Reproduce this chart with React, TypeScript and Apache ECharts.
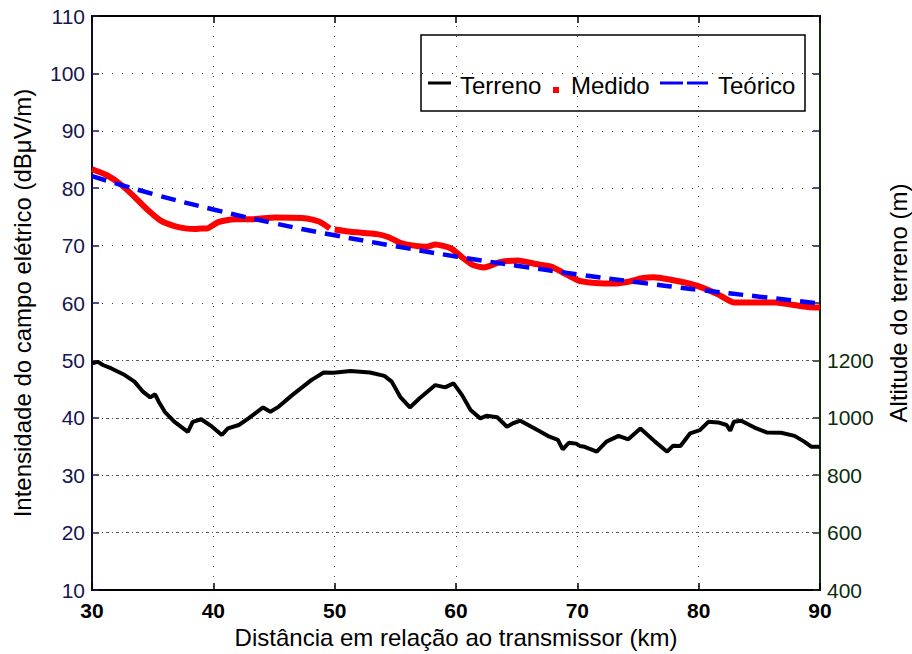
import React, { useEffect, useRef } from "react";
import * as echarts from "echarts";

const FONT = "'Liberation Sans', Arial, Helvetica, sans-serif";

// Terrain profile (km, metres) - right axis
const terrainKm = [30.0, 30.5, 30.9, 31.6, 32.7, 33.5, 34.2, 34.8, 35.2, 35.5, 36.0, 36.8, 37.9, 38.3, 39.0, 39.9, 40.7, 41.2, 42.1, 42.9, 44.1, 44.7, 45.4, 46.5, 48.1, 49.1, 49.9, 51.3, 52.9, 54.1, 54.7, 55.4, 56.2, 57.0, 58.3, 59.1, 59.8, 60.5, 61.2, 62.0, 62.5, 63.4, 64.2, 64.7, 65.3, 66.6, 67.7, 68.4, 68.8, 69.3, 69.9, 70.2, 70.6, 71.6, 72.4, 73.4, 74.2, 75.2, 76.4, 77.4, 77.9, 78.5, 79.3, 80.1, 80.8, 81.6, 82.3, 82.6, 82.9, 83.5, 84.6, 85.6, 86.8, 87.9, 88.7, 89.3, 90.0];
const terrainM = [1190, 1195, 1184, 1172, 1149, 1126, 1091, 1071, 1082, 1056, 1021, 986, 951, 986, 995, 969, 940, 963, 975, 998, 1036, 1021, 1039, 1079, 1132, 1158, 1157, 1163, 1158, 1146, 1126, 1073, 1036, 1068, 1114, 1106, 1120, 1079, 1027, 998, 1007, 1002, 969, 981, 990, 960, 934, 923, 890, 913, 910, 902, 899, 882, 917, 937, 925, 963, 917, 882, 903, 902, 946, 957, 986, 984, 975, 955, 986, 990, 966, 949, 948, 937, 917, 899, 899];

// Measured field strength (km, dBuV/m) - left axis; null marks the small gap
const measuredKm = [30.0, 31.2, 32.4, 33.5, 34.6, 35.7, 36.8, 37.7, 38.5, 39.0, 39.5, 40.4, 41.8, 43.2, 45.1, 47.3, 48.7, 49.6, 49.8, 50.0, 51.3, 53.5, 54.4, 55.4, 56.5, 57.6, 58.3, 59.6, 60.6, 61.4, 62.3, 63.6, 65.1, 66.6, 67.9, 68.8, 70.1, 71.5, 73.1, 74.2, 75.3, 76.3, 77.8, 79.2, 80.4, 81.6, 82.9, 85.0, 86.4, 87.7, 89.0, 90.0];
const measuredV = [83.3, 82.3, 80.6, 78.5, 76.2, 74.3, 73.4, 73.0, 72.9, 73.0, 73.0, 74.1, 74.6, 74.6, 74.9, 74.8, 74.2, 73.0, null, 72.8, 72.4, 72.0, 71.5, 70.5, 70.0, 69.8, 70.2, 69.5, 67.8, 66.6, 66.2, 67.1, 67.4, 66.8, 66.3, 65.3, 63.9, 63.5, 63.4, 63.7, 64.3, 64.5, 64.0, 63.4, 62.6, 61.5, 60.1, 60.1, 60.1, 59.7, 59.3, 59.2];

// Theoretical field strength (km, dBuV/m)
const theoryKm = [30, 35, 40, 45, 50, 55, 60, 65, 70, 75, 80, 85, 90];
const theoryV = [82.1, 79.0, 76.3, 73.9, 71.8, 69.9, 68.1, 66.5, 65.0, 63.6, 62.3, 61.1, 59.9];

const rightTicks = [400, 600, 800, 1000, 1200];
const rightGridLines = [600, 800, 1000, 1200];
const leftMirrorTicks = [60, 70, 80, 90, 100, 110];

const NAVY = "#16164e";
const GREEN = "#0c2c0c";

export default function App() {
  const ref = useRef<HTMLDivElement>(null);
  useEffect(() => {
    if (!ref.current) return;
    const chart = echarts.init(ref.current, null, { renderer: "svg" });
    const zip = (a: number[], b: (number | null)[]) => a.map((x, i) => [x, b[i]]);
    const option: any = {
      animation: false,
      backgroundColor: "#fff",
      grid: { left: 92, right: 92, top: 16, bottom: 64, containLabel: false, outerBoundsMode: "none" },
      xAxis: [
        {
          type: "value", min: 30, max: 90, interval: 10, position: "bottom",
          axisLine: { show: true, lineStyle: { color: "#000", width: 2 } },
          axisTick: { show: true, inside: true, length: 7, lineStyle: { color: "#000", width: 1.5 } },
          axisLabel: { color: "#000", fontSize: 21, fontWeight: "bold", margin: 10, fontFamily: FONT },
          splitLine: { show: true, lineStyle: { color: "#444", type: [1, 9], width: 1 } },
          name: "Distância em relação ao transmissor (km)",
          nameLocation: "middle", nameGap: 34,
          nameTextStyle: { fontSize: 24, color: "#000", fontFamily: FONT },
        },
        {
          type: "value", min: 30, max: 90, interval: 10, position: "top",
          axisLine: { show: true, lineStyle: { color: "#000", width: 2 } },
          axisTick: { show: true, inside: true, length: 7, lineStyle: { color: "#000", width: 1.5 } },
          axisLabel: { show: false }, splitLine: { show: false },
        },
      ],
      yAxis: [
        {
          type: "value", min: 10, max: 110, interval: 10, position: "left",
          axisLine: { show: true, lineStyle: { color: "#0a0a2a", width: 2 } },
          axisTick: { show: true, inside: true, length: 7, lineStyle: { color: NAVY, width: 1.5 } },
          axisLabel: { color: NAVY, fontSize: 21, margin: 7, fontFamily: FONT },
          splitLine: { show: true, lineStyle: { color: "#444", type: [1, 9], width: 1 } },
          name: "Intensidade do campo elétrico (dBμV/m)",
          nameLocation: "middle", nameGap: 58, nameRotate: 90,
          nameTextStyle: { fontSize: 24, color: "#000", fontFamily: FONT },
        },
        {
          type: "value", min: 400, max: 2400, interval: 200, position: "right",
          axisLine: { show: true, lineStyle: { color: GREEN, width: 2 } },
          axisTick: { show: true, inside: true, length: 7, customValues: rightTicks, lineStyle: { color: GREEN, width: 1.5 } },
          axisLabel: { color: GREEN, fontSize: 21, margin: 7, fontFamily: FONT, customValues: rightTicks, formatter: (v: number) => String(v) },
          splitLine: { show: false },
          name: "Altitude do terreno (m)",
          nameLocation: "middle", nameGap: 66, nameRotate: 90,
          nameTextStyle: { fontSize: 24, color: "#000", fontFamily: FONT },
        },
        {
          type: "value", min: 10, max: 110, interval: 10, position: "right",
          axisLine: { show: false },
          axisTick: { show: true, inside: true, length: 7, customValues: leftMirrorTicks, lineStyle: { color: NAVY, width: 1.5 } },
          axisLabel: { show: false }, splitLine: { show: false },
        },
      ],
      series: [
        {
          name: "Terreno", type: "line", xAxisIndex: 0, yAxisIndex: 1,
          data: zip(terrainKm, terrainM), showSymbol: false, symbol: "none",
          lineStyle: { color: "#000", width: 4 }, z: 3,
          markLine: {
            silent: true, symbol: "none", label: { show: false },
            lineStyle: { color: "#555", type: [3, 7], width: 1, dashOffset: -4 },
            data: rightGridLines.map((v) => ({ yAxis: v })),
            z: 1,
          },
        },
        {
          name: "Medido", type: "line", xAxisIndex: 0, yAxisIndex: 0,
          data: zip(measuredKm, measuredV), showSymbol: false, symbol: "none",
          smooth: 0.2, connectNulls: false,
          lineStyle: { color: "#ff0000", width: 6 }, z: 4,
        },
        {
          name: "Teórico", type: "line", xAxisIndex: 0, yAxisIndex: 0,
          data: zip(theoryKm, theoryV), showSymbol: false, symbol: "none",
          smooth: true,
          lineStyle: { color: "#0000ff", width: 4.5, type: [15, 9] }, z: 5,
        },
      ],
      graphic: [
        {
          type: "group", z: 100,
          children: [
            { type: "rect", shape: { x: 421, y: 35, width: 384, height: 76 }, style: { fill: "#fff", stroke: "#000", lineWidth: 1.5 } },
            { type: "line", shape: { x1: 428, y1: 83, x2: 451, y2: 83 }, style: { stroke: "#000", lineWidth: 3 } },
            { type: "text", x: 460, y: 85, style: { text: "Terreno", fontSize: 24, fontFamily: FONT, fill: "#000", verticalAlign: "middle", align: "left" } },
            { type: "rect", shape: { x: 553, y: 87, width: 6, height: 6 }, style: { fill: "#ff0000" } },
            { type: "text", x: 571, y: 85, style: { text: "Medido", fontSize: 24, fontFamily: FONT, fill: "#000", verticalAlign: "middle", align: "left" } },
            { type: "line", shape: { x1: 660, y1: 83, x2: 683, y2: 83 }, style: { stroke: "#0000ff", lineWidth: 3 } },
            { type: "line", shape: { x1: 687, y1: 83, x2: 708, y2: 83 }, style: { stroke: "#0000ff", lineWidth: 3 } },
            { type: "text", x: 718, y: 85, style: { text: "Teórico", fontSize: 24, fontFamily: FONT, fill: "#000", verticalAlign: "middle", align: "left" } },
          ],
        },
      ],
    };
    chart.setOption(option);
    return () => chart.dispose();
  }, []);
  return <div ref={ref} style={{ width: 912, height: 654, position: "absolute", left: 0, top: 0 }} />;
}
